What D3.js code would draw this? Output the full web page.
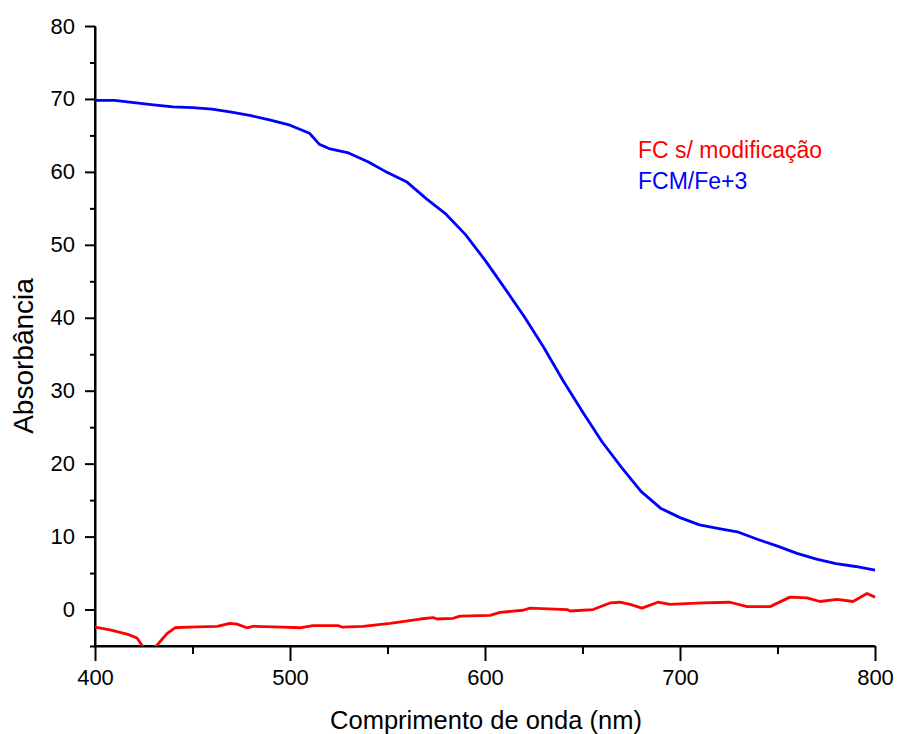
<!DOCTYPE html>
<html>
<head>
<meta charset="utf-8">
<script src="https://cdn.jsdelivr.net/npm/d3@7"></script>
<style>
    body { margin: 0; background: #fff; }
    svg text { font-family: "Liberation Sans", Arial, sans-serif; fill: #000; }
    .axis path, .axis line { stroke: #000; stroke-width: 2px; }
</style>
</head>
<body>
<div id="chart"></div>
<script>
// FC s/ modificação (red)
var fcWave = [400, 407.7, 416.9, 421.5, 424.1, 428, 431.8, 436.9, 441, 447.7, 462.6, 469.2, 472.8, 477.9, 481,
    496.4, 505.1, 511.8, 524.6, 526.7, 537.4, 551.3, 566.7, 573.3, 575.4, 583.6, 587.2, 602.6, 607.7, 619.5,
    623.1, 642.1, 643.6, 655.4, 664.1, 669.2, 674.4, 680.5, 688.7, 694.9, 711.8, 725.6, 734.4, 746.2, 756.4,
    765.1, 771.8, 780.5, 788.7, 795.9, 800];
var fcAbs = [-2.4, -2.8, -3.4, -3.9, -4.9, -5.8, -4.9, -3.3, -2.5, -2.4, -2.3, -1.9, -2.0, -2.5, -2.3,
    -2.4, -2.5, -2.2, -2.2, -2.4, -2.3, -1.9, -1.3, -1.1, -1.3, -1.2, -0.9, -0.8, -0.4, -0.1,
    0.2, 0.0, -0.2, 0.0, 0.9, 1.0, 0.7, 0.2, 1.0, 0.7, 0.9, 1.0, 0.4, 0.4, 1.7,
    1.6, 1.1, 1.4, 1.1, 2.2, 1.7];

// FCM/Fe+3 (blue)
var fcmWave = [400, 410, 420, 430, 440, 450, 460, 470, 480, 490, 500, 510, 515, 520, 530, 540, 550, 560, 570,
    580, 590, 600, 610, 620, 630, 640, 650, 660, 670, 680, 690, 700, 710, 720, 730, 740, 750, 760, 770,
    780, 790, 800];
var fcmAbs = [69.8, 69.8, 69.5, 69.2, 68.9, 68.8, 68.6, 68.2, 67.7, 67.1, 66.4, 65.3, 63.8, 63.2, 62.6, 61.4,
    59.9, 58.6, 56.3, 54.2, 51.4, 47.9, 44.1, 40.2, 36.0, 31.4, 27.1, 23.0, 19.5, 16.2, 13.9, 12.6, 11.6,
    11.1, 10.6, 9.6, 8.7, 7.7, 6.9, 6.3, 5.9, 5.4];

var xMajorTicks = [400, 500, 600, 700, 800];
var xMinorTicks = [450, 550, 650, 750];
var yMajorTicks = [0, 10, 20, 30, 40, 50, 60, 70, 80];
var yMinorTicks = [-5, 5, 15, 25, 35, 45, 55, 65, 75];

var seriesNames = ["FC s/ modificação", "FCM/Fe+3"];
var seriesColors = ["#ff0000", "#0000ff"];

var width = 897, height = 734;
var plot = { left: 95, right: 875, top: 26, bottom: 646 };

function zip(xs, ys) {
    return xs.map(function (x, i) { return { x: x, y: ys[i] }; });
}

function drawChart() {
    var svg = d3.select("#chart")
        .append("svg")
        .attr("width", width)
        .attr("height", height);

    var x = d3.scaleLinear().domain([400, 800]).range([plot.left, plot.right]);
    var y = d3.scaleLinear().domain([-5, 80]).range([plot.bottom, plot.top]);

    svg.append("clipPath")
        .attr("id", "plot-clip")
        .append("rect")
        .attr("x", plot.left)
        .attr("y", plot.top - 5)
        .attr("width", plot.right - plot.left + 5)
        .attr("height", plot.bottom - plot.top + 5);

    // minor ticks first, majors on top
    svg.append("g")
        .attr("class", "axis")
        .attr("transform", "translate(0," + plot.bottom + ")")
        .call(d3.axisBottom(x).tickValues(xMinorTicks).tickSize(8).tickSizeOuter(0).tickFormat(""));

    svg.append("g")
        .attr("class", "axis")
        .attr("transform", "translate(" + plot.left + ",0)")
        .call(d3.axisLeft(y).tickValues(yMinorTicks).tickSize(5).tickSizeOuter(0).tickFormat(""));

    var xAxis = svg.append("g")
        .attr("class", "axis")
        .attr("transform", "translate(0," + plot.bottom + ")")
        .call(d3.axisBottom(x).tickValues(xMajorTicks).tickSize(15).tickSizeOuter(0).tickPadding(8));
    xAxis.selectAll("text").style("font-size", "22px");

    var yAxis = svg.append("g")
        .attr("class", "axis")
        .attr("transform", "translate(" + plot.left + ",0)")
        .call(d3.axisLeft(y).tickValues(yMajorTicks).tickSize(10).tickSizeOuter(0).tickPadding(10));
    yAxis.selectAll("text").style("font-size", "22px");

    // extend left axis line down to the x axis
    yAxis.select(".domain").attr("d", "M0," + plot.bottom + "V" + plot.top);
    xAxis.select(".domain").attr("d", "M" + (plot.left - 1) + ",0H" + plot.right);

    var line = d3.line()
        .x(function (d) { return x(d.x); })
        .y(function (d) { return y(d.y); });

    var lines = [zip(fcWave, fcAbs), zip(fcmWave, fcmAbs)];
    lines.forEach(function (data, i) {
        svg.append("path")
            .datum(data)
            .attr("clip-path", "url(#plot-clip)")
            .attr("fill", "none")
            .attr("stroke", seriesColors[i])
            .attr("stroke-width", 2.8)
            .attr("stroke-linejoin", "round")
            .attr("d", line);
    });

    // legend
    seriesNames.forEach(function (name, i) {
        svg.append("text")
            .attr("x", 638)
            .attr("y", 158 + i * 31)
            .style("font-size", "23px")
            .style("fill", seriesColors[i])
            .text(name);
    });

    svg.append("text")
        .attr("x", (plot.left + plot.right) / 2 + 1)
        .attr("y", 729)
        .attr("text-anchor", "middle")
        .style("font-size", "25.5px")
        .text("Comprimento de onda (nm)");

    svg.append("text")
        .attr("transform", "translate(33,356) rotate(-90)")
        .attr("text-anchor", "middle")
        .style("font-size", "28px")
        .text("Absorbância");
}

drawChart();
</script>
</body>
</html>
